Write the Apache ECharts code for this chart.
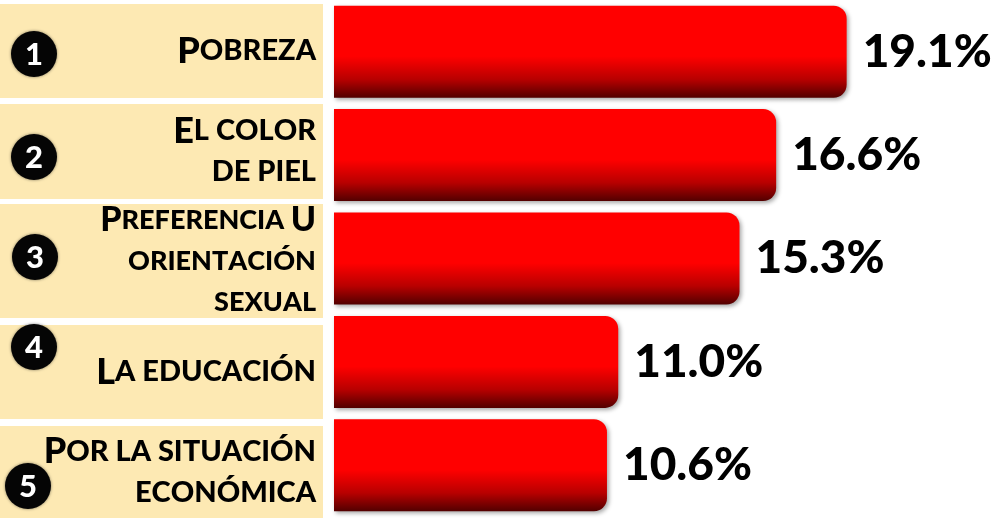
<!DOCTYPE html>
<html>
<head>
<meta charset="utf-8">
<script src="https://cdn.jsdelivr.net/npm/echarts@6/dist/echarts.min.js"></script>
<style>
  html, body { margin: 0; padding: 0; background: #fff; }
  #chart { width: 1004px; height: 518px; }
</style>
</head>
<body>
<div id="chart"></div>
<script>
// data
const ranks = ['1', '2', '3', '4', '5'];
const categories = [
  'Pobreza',
  'El color\nde piel',
  'Preferencia U\norientación\nsexual',
  'La educación',
  'Por la situación\neconómica'
];
const values = [19.1, 16.6, 15.3, 11.0, 10.6];

// layout of the beige label boxes on the left (top, bottom) and the rank circles
const boxRows = [[4, 98], [104, 199], [204, 318], [325, 419], [426, 518]];
const circles = [[34, 54], [34, 157], [35, 257], [34, 347], [28, 486]];
const FONT = 'Lato, "Open Sans", sans-serif';

// turn "Pobreza" into small caps rich text: capitals big, lower case as small capitals
const smallCaps = (text, big, small) =>
  text.split('\n').map((line) =>
    line.split('').map((ch) => {
      if (ch === ' ') return '{' + small + '| }';
      if (ch !== ch.toLowerCase()) return '{' + big + '|' + ch + '}';
      return '{' + small + '|' + ch.toUpperCase() + '}';
    }).join('')
  ).join('\n');

const chart = echarts.init(document.getElementById('chart'));

const graphics = [];
categories.forEach((name, i) => {
  const [top, bottom] = boxRows[i];
  const isSmall = i === 2;
  graphics.push({
    type: 'rect',
    shape: { x: 0, y: top, width: 323, height: bottom - top },
    style: { fill: '#fde9b3' },
    z: 1
  });
  graphics.push({
    type: 'text',
    x: 316,
    y: (top + bottom) / 2,
    style: {
      text: smallCaps(name, 'c', 's'),
      align: 'right',
      verticalAlign: 'middle',
      fill: '#000',
      rich: {
        c: { fontFamily: FONT, fontWeight: 900, fontSize: isSmall ? 34 : 36, lineHeight: 41 },
        s: { fontFamily: FONT, fontWeight: 900, fontSize: isSmall ? 27 : 29, lineHeight: 41 }
      }
    },
    z: 3
  });
  graphics.push({
    type: 'circle',
    shape: { cx: circles[i][0], cy: circles[i][1], r: 23 },
    style: { fill: '#050505', shadowBlur: 3, shadowColor: 'rgba(0,0,0,0.5)' },
    z: 3
  });
  graphics.push({
    type: 'text',
    x: circles[i][0],
    y: circles[i][1] + 1,
    style: {
      text: ranks[i],
      align: 'center',
      verticalAlign: 'middle',
      fill: '#fff',
      fontFamily: FONT,
      fontWeight: 900,
      fontSize: 31
    },
    z: 4
  });
});

const option = {
  animation: false,
  backgroundColor: '#fff',
  grid: { left: 334, right: 0, top: -3, bottom: 1 },
  xAxis: {
    type: 'value',
    min: 0.92,
    max: 24.68,
    show: false
  },
  yAxis: {
    type: 'category',
    inverse: true,
    data: categories,
    show: false
  },
  graphic: graphics,
  series: [
    {
      type: 'bar',
      data: values,
      barWidth: 92,
      itemStyle: {
        borderRadius: [0, 13, 13, 0],
        color: new echarts.graphic.LinearGradient(0, 0, 0, 1, [
          { offset: 0, color: '#ff0000' },
          { offset: 0.55, color: '#ff0000' },
          { offset: 0.8, color: '#b80000' },
          { offset: 1, color: '#520000' }
        ]),
        shadowBlur: 4,
        shadowOffsetX: 2,
        shadowOffsetY: 2,
        shadowColor: 'rgba(0,0,0,0.35)'
      },
      label: {
        show: true,
        position: 'right',
        distance: 16,
        formatter: (p) => p.value.toFixed(1) + '%',
        color: '#000',
        fontFamily: FONT,
        fontWeight: 900,
        fontSize: 46
      }
    }
  ]
};

chart.setOption(option);
</script>
</body>
</html>
